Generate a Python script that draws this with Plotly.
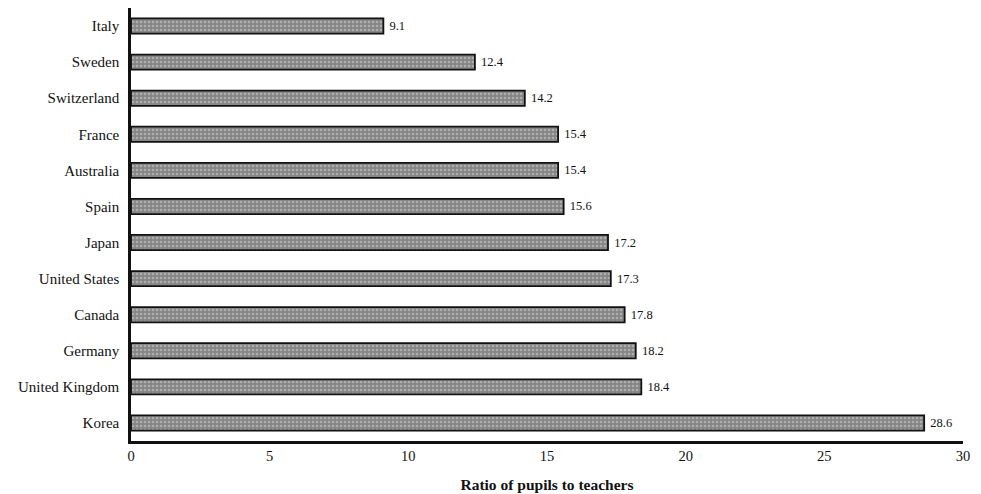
import plotly.graph_objects as go

countries = ["Italy", "Sweden", "Switzerland", "France", "Australia", "Spain",
             "Japan", "United States", "Canada", "Germany", "United Kingdom", "Korea"]
ratios = [9.1, 12.4, 14.2, 15.4, 15.4, 15.6, 17.2, 17.3, 17.8, 18.2, 18.4, 28.6]
x_ticks = [0, 5, 10, 15, 20, 25, 30]

fig = go.Figure(go.Bar(
    y=countries, x=ratios, orientation="h",
    width=0.42,
    marker=dict(color="#8f8f8f",
                line=dict(color="#111111", width=1.8),
                pattern=dict(shape=".", fgcolor="#d8d8d8", bgcolor="#858585",
                             size=4, solidity=0.35)),
    text=[f"\u00a0{v:.1f}" for v in ratios], textposition="outside",
    textfont=dict(family="Liberation Serif", size=12.5, color="#111111"),
    cliponaxis=False,
))

fig.update_layout(
    width=973, height=486,
    margin=dict(l=123, r=18, t=0, b=53, autoexpand=False),
    paper_bgcolor="white", plot_bgcolor="white",
    showlegend=False,
    font=dict(family="Liberation Serif", color="#111111", size=15),
    xaxis=dict(range=[0, 30], tickvals=x_ticks, showgrid=False, zeroline=False,
               showline=True, linecolor="#111111", linewidth=2.5,
               ticks="", automargin=False, ticklabeloverflow="allow",
               tickfont=dict(size=14.5, family="Liberation Serif"),
               title=dict(text="<b>Ratio of pupils to teachers</b>",
                          font=dict(size=15.5, family="Liberation Serif"), standoff=16)),
    yaxis=dict(autorange="reversed", showgrid=False, zeroline=False,
               showline=True, linecolor="#111111", linewidth=2.5,
               ticks="", ticklabelstandoff=6, automargin=False,
               tickfont=dict(size=15, family="Liberation Serif")),
)

fig.write_html("out.html")
